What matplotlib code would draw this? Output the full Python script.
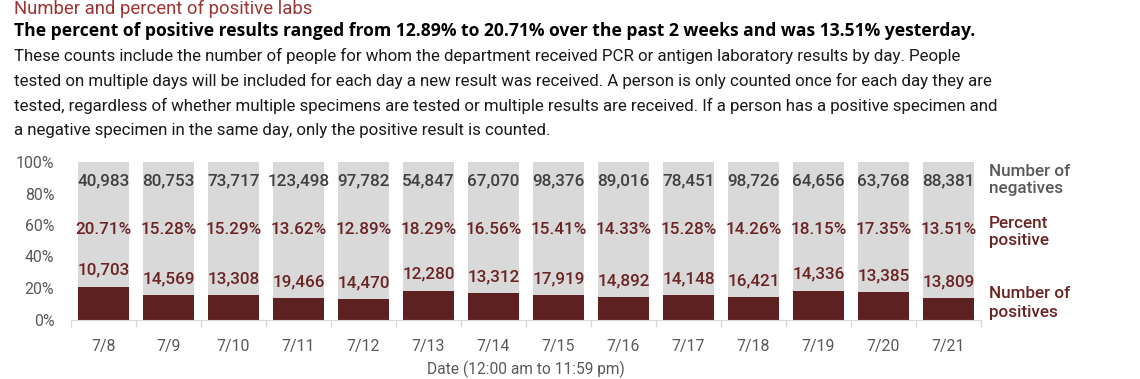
import matplotlib
matplotlib.use("Agg")
import matplotlib.pyplot as plt
import numpy as np

dates = ["7/8", "7/9", "7/10", "7/11", "7/12", "7/13", "7/14", "7/15", "7/16", "7/17", "7/18", "7/19", "7/20", "7/21"]
negatives = [40983, 80753, 73717, 123498, 97782, 54847, 67070, 98376, 89016, 78451, 98726, 64656, 63768, 88381]
positives = [10703, 14569, 13308, 19466, 14470, 12280, 13312, 17919, 14892, 14148, 16421, 14336, 13385, 13809]
pct_positive = [20.71, 15.28, 15.29, 13.62, 12.89, 18.29, 16.56, 15.41, 14.33, 15.28, 14.26, 18.15, 17.35, 13.51]

FONT = "Roboto"
plt.rcParams["font.family"] = [FONT, "DejaVu Sans"]

W, H = 1140, 379
fig = plt.figure(figsize=(W / 100, H / 100), dpi=100)

RED_T = "#9c3434"
DARK_RED = "#5e2121"
LBL_RED = "#6b2424"
GRAY_BAR = "#d9d9d9"
GRAY_TXT = "#595959"
NUM_GRAY = "#404040"

def fy(py):
    return 1 - py / H

def fx(px):
    return px / W

fig.text(fx(14), fy(9), "Number and percent of positive labs", color=RED_T, fontsize=13.3, va="center", ha="left")
fig.text(fx(14), fy(31), "The percent of positive results ranged from 12.89% to 20.71% over the past 2 weeks and was 13.51% yesterday.",
         color="black", fontsize=12.6, fontweight="bold", family=["Open Sans", "DejaVu Sans"], va="center", ha="left")
body = [
    "These counts include the number of people for whom the department received PCR or antigen laboratory results by day. People",
    "tested on multiple days will be included for each day a new result was received. A person is only counted once for each day they are",
    "tested, regardless of whether multiple specimens are tested or multiple results are received. If a person has a positive specimen and",
    "a negative specimen in the same day, only the positive result is counted.",
]
for i, line in enumerate(body):
    fig.text(fx(14), fy(56 + 25 * i), line, color="#1a1a1a", fontsize=12.2, va="center", ha="left")

ax = fig.add_axes([fx(71), fy(319.5), fx(981) - fx(71), (319.5 - 162) / H])
x = np.arange(len(dates))
pct = np.array(pct_positive)
ax.bar(x, 100 - pct, bottom=pct, width=0.77, color=GRAY_BAR, zorder=2)
ax.bar(x, pct, width=0.77, color=DARK_RED, zorder=2)

for i in range(len(dates)):
    ax.text(x[i], 88, f"{negatives[i]:,}", ha="center", va="center", color=NUM_GRAY, fontsize=12.3, fontweight="medium", zorder=3)
    ax.text(x[i], 57, f"{pct_positive[i]:.2f}%", ha="center", va="center", color=LBL_RED, fontsize=12.3, fontweight="medium", zorder=3)
    ax.text(x[i], pct[i] + 10.5, f"{positives[i]:,}", ha="center", va="center", color=LBL_RED, fontsize=12.3, fontweight="medium", zorder=3)

ax.set_xlim(-0.5, len(dates) - 0.5)
ax.set_ylim(0, 100)
ax.set_yticks([0, 20, 40, 60, 80, 100])
ax.set_yticklabels([f"{v}%" for v in [0, 20, 40, 60, 80, 100]])
ax.tick_params(axis="y", length=0, labelsize=11.4, labelcolor=GRAY_TXT, pad=12)
ax.set_xticks(x)
ax.set_xticklabels(dates)
ax.tick_params(axis="x", which="major", length=0, labelsize=11.4, labelcolor=GRAY_TXT, pad=14)
ax.set_xticks(np.arange(-0.5, len(dates), 1), minor=True)
ax.tick_params(axis="x", which="minor", length=5, color="#d9d9d9", width=1)
for s in ["top", "right", "left"]:
    ax.spines[s].set_visible(False)
ax.spines["bottom"].set_color("#d9d9d9")
ax.set_xlabel("Date (12:00 am to 11:59 pm)", fontsize=11.2, color=GRAY_TXT, labelpad=5)

fig.text(fx(989), fy(180), "Number of\nnegatives", color=GRAY_TXT, fontsize=12.3, fontweight="medium", va="center", ha="left", linespacing=1.25)
fig.text(fx(989), fy(232), "Percent\npositive", color=LBL_RED, fontsize=12.3, fontweight="medium", va="center", ha="left", linespacing=1.25)
fig.text(fx(989), fy(303), "Number of\npositives", color=LBL_RED, fontsize=12.3, fontweight="medium", va="center", ha="left", linespacing=1.25)

fig.savefig("out.png", dpi=100, facecolor="white")
